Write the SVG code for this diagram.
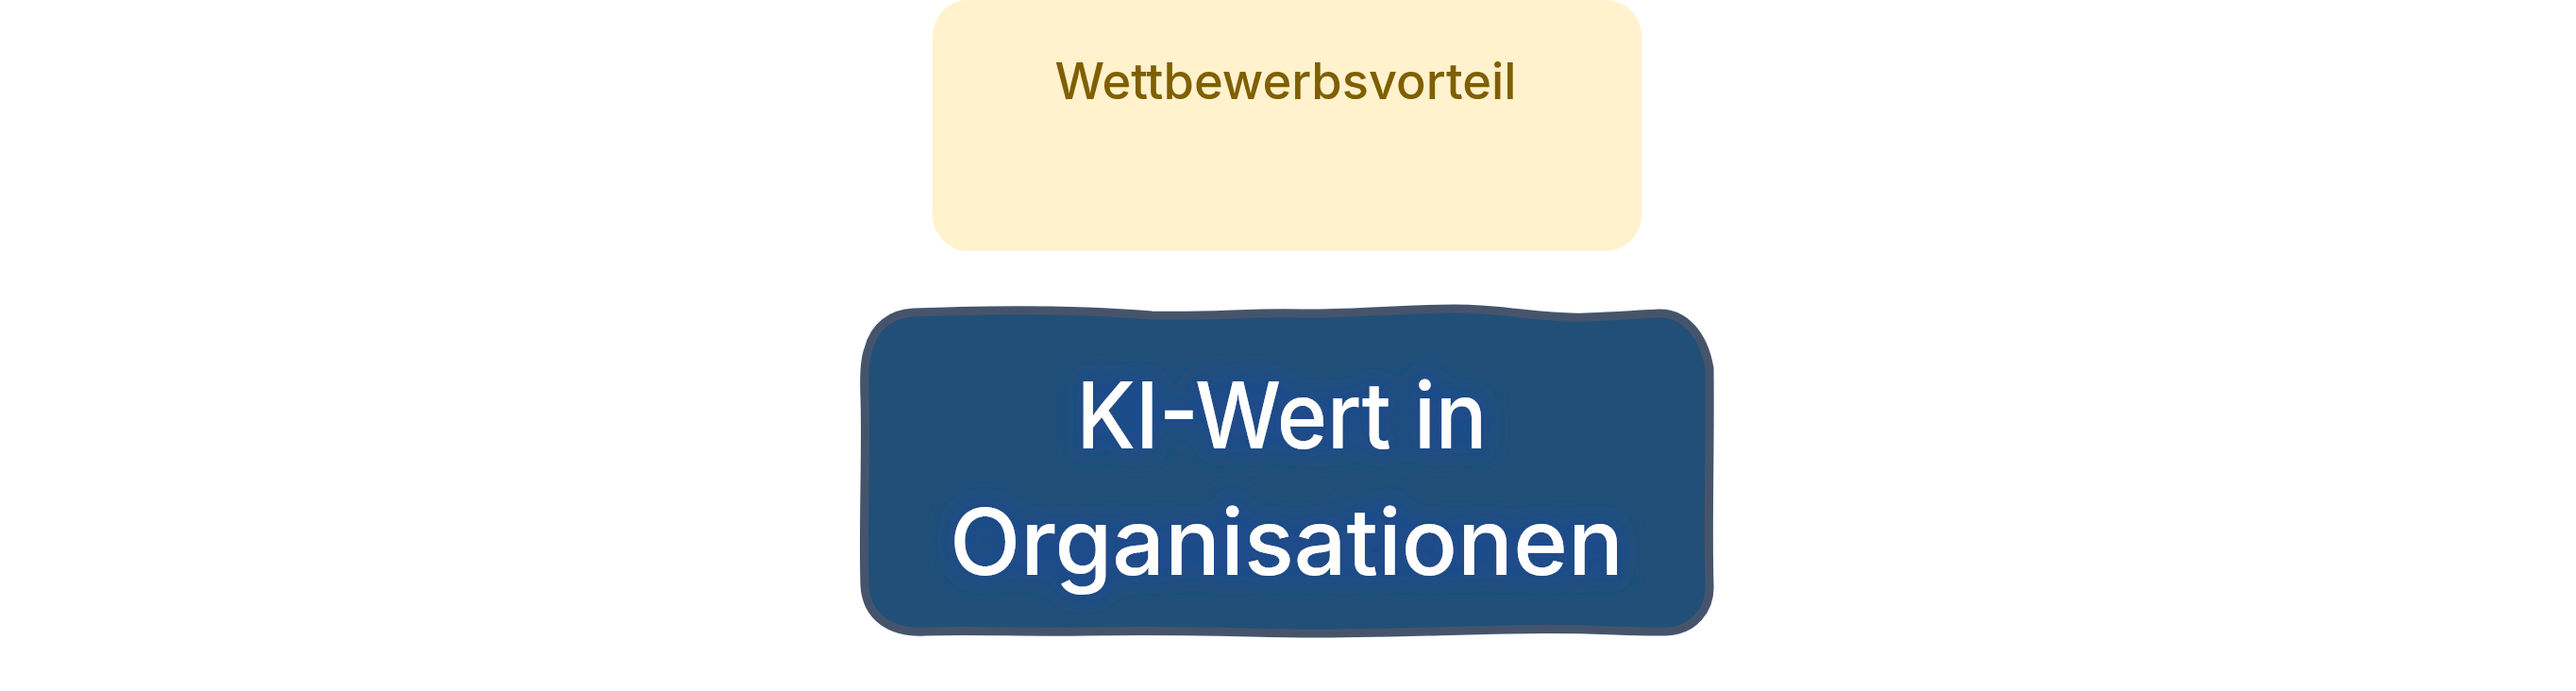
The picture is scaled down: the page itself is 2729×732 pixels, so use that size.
<svg xmlns="http://www.w3.org/2000/svg" width="2729" height="732" viewBox="0 0 2729 732">
  <defs>
    <style>
      .label { font-family: Inter, "Liberation Sans", sans-serif; text-anchor: middle; }
      .yellow-box { fill: #fff2cc; stroke: none; }
      .yellow-text { fill: #7f5f00; font-size: 53px; font-weight: 500; }
      .blue-box { fill: #214f78; stroke: #46546b; stroke-width: 9; stroke-linejoin: round; }
      .blue-text { fill: #ffffff; font-size: 98px; font-weight: 500; }
    </style>
    <filter id="glow" x="-20%" y="-40%" width="140%" height="180%">
      <feMorphology in="SourceAlpha" operator="dilate" radius="9" result="d"/>
      <feGaussianBlur in="d" stdDeviation="11" result="b"/>
      <feFlood flood-color="#1c4b8c" flood-opacity="0.9"/>
      <feComposite in2="b" operator="in" result="g"/>
      <feMerge>
        <feMergeNode in="g"/>
        <feMergeNode in="SourceGraphic"/>
      </feMerge>
    </filter>
  </defs>
  <rect width="2729" height="732" fill="#ffffff"/>

  <g id="connectors"></g>

  <g id="node-wettbewerbsvorteil">
    <rect class="yellow-box" x="988" y="0" width="751" height="266" rx="38" ry="38"/>
    <text class="label yellow-text" x="1362" y="105" textLength="489" lengthAdjust="spacingAndGlyphs">Wettbewerbsvorteil</text>
  </g>

  <g id="node-ki-wert">
    <path class="blue-box" d="M 968 331 C 1020 329 1120 326 1220 334 C 1280 336 1330 330 1380 332 C 1440 333 1480 327 1540 327 C 1600 327 1630 338 1680 336 C 1710 335 1740 333 1757 332 C 1785 331 1805 355 1811 390 C 1812 470 1809 560 1811 620 C 1812 645 1795 668 1765 669 C 1720 670 1690 665 1600 667 C 1500 669 1450 671 1386 671 C 1300 670 1250 667 1150 669 C 1080 670 1030 667 980 669 C 945 671 918 655 916 620 C 914 560 918 470 916 420 C 915 395 916 380 920 370 C 926 345 945 332 968 331 Z"/>
    <g filter="url(#glow)">
      <text class="label blue-text" x="1358" y="475" textLength="435" lengthAdjust="spacingAndGlyphs">KI-Wert in</text>
      <text class="label blue-text" x="1363" y="609" textLength="714" lengthAdjust="spacingAndGlyphs">Organisationen</text>
    </g>
  </g>
</svg>
